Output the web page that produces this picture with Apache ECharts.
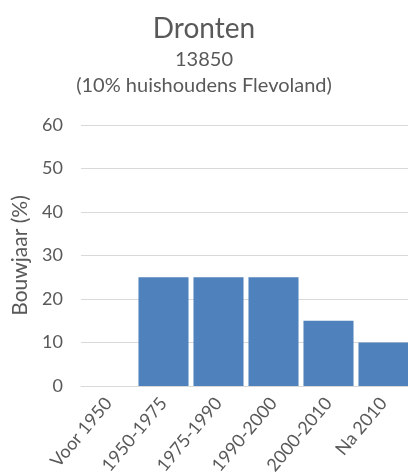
<!DOCTYPE html>
<html><head><meta charset="utf-8">
<script src="https://cdn.jsdelivr.net/npm/echarts@6/dist/echarts.min.js"></script>
<style>html,body{margin:0;padding:0;background:#fff}#c{width:408px;height:475px}</style>
</head><body><div id="c"></div>
<script>
const categories = ['Voor 1950','1950-1975','1975-1990','1990-2000','2000-2010','Na 2010'];
const values = [0, 25, 25, 25, 15, 10];
const yTicks = [0, 10, 20, 30, 40, 50, 60];
const titleText = 'Dronten';
const subText1 = '13850';
const subText2 = '(10% huishoudens Flevoland)';
const yName = 'Bouwjaar (%)';

const F = 'Lato';
const chart = echarts.init(document.getElementById('c'), null, {renderer:'canvas'});
chart.setOption({
  animation: false,
  textStyle: {fontFamily: F},
  title: [
    {text: titleText, left: 'center', top: 10, textStyle: {fontFamily: F, fontSize: 28, fontWeight: 'normal', color: '#595959'}},
    {text: subText1, left: 'center', top: 45, textStyle: {fontFamily: F, fontSize: 20, fontWeight: 'normal', color: '#595959'}},
    {text: subText2, left: 'center', top: 71, textStyle: {fontFamily: F, fontSize: 20, fontWeight: 'normal', color: '#595959'}}
  ],
  grid: {left: 81, width: 330, top: 125, bottom: 89, containLabel: false, outerBoundsMode: 'none'},
  xAxis: {
    type: 'category', data: categories,
    axisLine: {lineStyle: {color: '#d9d9d9', width: 1}},
    axisTick: {show: false},
    axisLabel: {rotate: 50, interval: 0, hideOverlap: false, color: '#595959', fontSize: 18, fontFamily: F, margin: 14}
  },
  yAxis: {
    type: 'value', min: yTicks[0], max: yTicks[yTicks.length-1], interval: 10,
    name: yName, nameLocation: 'middle', nameGap: 39, nameRotate: 90,
    nameTextStyle: {color: '#595959', fontSize: 21, fontFamily: F},
    axisLine: {show: false}, axisTick: {show: false},
    axisLabel: {color: '#595959', fontSize: 18, fontFamily: F, margin: 18},
    splitLine: {lineStyle: {color: '#d9d9d9', width: 1}}
  },
  series: [{
    type: 'bar', data: values, barCategoryGap: '9%',
    itemStyle: {color: '#4f81bd'}
  }]
});
</script></body></html>
